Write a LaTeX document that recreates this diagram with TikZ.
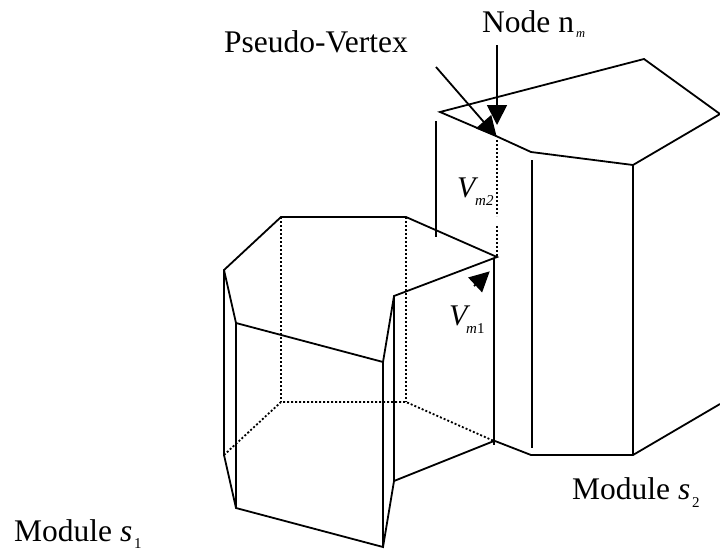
\documentclass[tikz,border=0pt]{standalone}
\usepackage{fontspec}
\setmainfont{Liberation Serif}
\usetikzlibrary{arrows.meta}
\tikzset{
  edge/.style={line width=1.8pt,line join=miter,black},
  hidden/.style={line width=1.8pt,black,dash pattern=on 2pt off 2pt},
  pointer/.style={line width=1.8pt,black,-{Triangle[length=20pt,width=20pt]},shorten >=-1pt},
  label/.style={inner sep=0pt,anchor=base west,font=\fontsize{31.5}{32}\selectfont},
  sub/.style={inner sep=0pt,anchor=base west,font=\fontsize{15}{15}\selectfont},
  tiny/.style={inner sep=0pt,anchor=base west,font=\fontsize{12.5}{13}\selectfont\itshape},
  bigv/.style={inner sep=0pt,anchor=base west,font=\fontsize{30}{30}\selectfont\itshape}
}
\begin{document}
\begin{tikzpicture}[x=1pt,y=-1pt]
\useasboundingbox (0,0) rectangle (720,552);
% Module s2 top
\coordinate (b1) at (440,112);
\coordinate (b2) at (644,59);
\coordinate (b3) at (720,114);
\coordinate (b4) at (633,165);
\coordinate (b5) at (531,152);
\coordinate (pv) at (496,136);
% Module s2 lower
\coordinate (b6) at (495,441);
\coordinate (b7) at (531,455);
\coordinate (b8) at (633,455);
\coordinate (b9) at (720,404);
% Module s1 top
\coordinate (a1) at (224,270);
\coordinate (a2) at (281,217);
\coordinate (a3) at (406,217);
\coordinate (a4) at (497,257);
\coordinate (a5) at (394,296);
\coordinate (a6) at (383,362);
\coordinate (a7) at (236,323);
% Module s1 bottom
\coordinate (c1) at (224,455);
\coordinate (c2) at (281,402);
\coordinate (c3) at (406,402);
\coordinate (c4) at (494,441);
\coordinate (c5) at (394,481);
\coordinate (c6) at (383,547);
\coordinate (c7) at (236,508);
% s2 edges
\draw[edge] (pv) -- (b1) -- (b2) -- (b3) -- (b4) -- (b5) -- (pv);
\draw[edge] (b6) -- (b7) -- (b8) -- (b9);
\draw[edge] (436,121) -- (436,237);
\draw[edge] (532,160) -- (532,448);
\draw[edge] (b4) -- (b8);
% s1 edges
\draw[edge] (a1) -- (a2) -- (a3) -- (a4) -- (a5) -- (a6) -- (a7) -- cycle;
\draw[edge] (c1) -- (c7) -- (c6) -- (c5) -- (c4);
\draw[edge] (a1) -- (c1);
\draw[edge] (a7) -- (c7);
\draw[edge] (a6) -- (c6);
\draw[edge] (a5) -- (c5);
\draw[edge] (494,258) -- (494,445);
% hidden edges
\draw[hidden] (a2) -- (c2);
\draw[hidden] (a3) -- (c3);
\draw[hidden] (c1) -- (c2) -- (c3) -- (c4);
\draw[hidden] (497,140) -- (497,216);
\draw[hidden] (497,226) -- (497,257);
% labels
\node[label] (nodeN) at (482,32) {Node n};
\node[tiny] (nodeM) at (576,37) {m};
\node[label] (pseudo) at (224,52) {Pseudo-Vertex};
\node[label] (mod2) at (572,499) {Module \textit{s}};
\node[sub] (mod2s) at (692,507) {2};
\node[label] (mod1) at (14,541) {Module \textit{s}};
\node[sub] (mod1s) at (134,548) {1};
\node[bigv] (vm2) at (457,197) {V};
\node[sub,font=\fontsize{15}{15}\selectfont\itshape] (vm2s) at (475,205) {m2};
\node[bigv] (vm1) at (449,325) {V};
\node[sub] (vm1s) at (466,333) {\textit{m}1};
% arrows
\coordinate (nodeTail) at (497,45);
\coordinate (nodeTip) at (497,124);
\coordinate (pseudoTail) at (436,67);
\coordinate (smallTail) at (474,286);
\coordinate (smallTip) at (489,272);
\draw[pointer] (nodeTail) -- (nodeTip);
\draw[pointer] (pseudoTail) -- (pv);
\draw[pointer] (smallTail) -- (smallTip);
\end{tikzpicture}
\end{document}
